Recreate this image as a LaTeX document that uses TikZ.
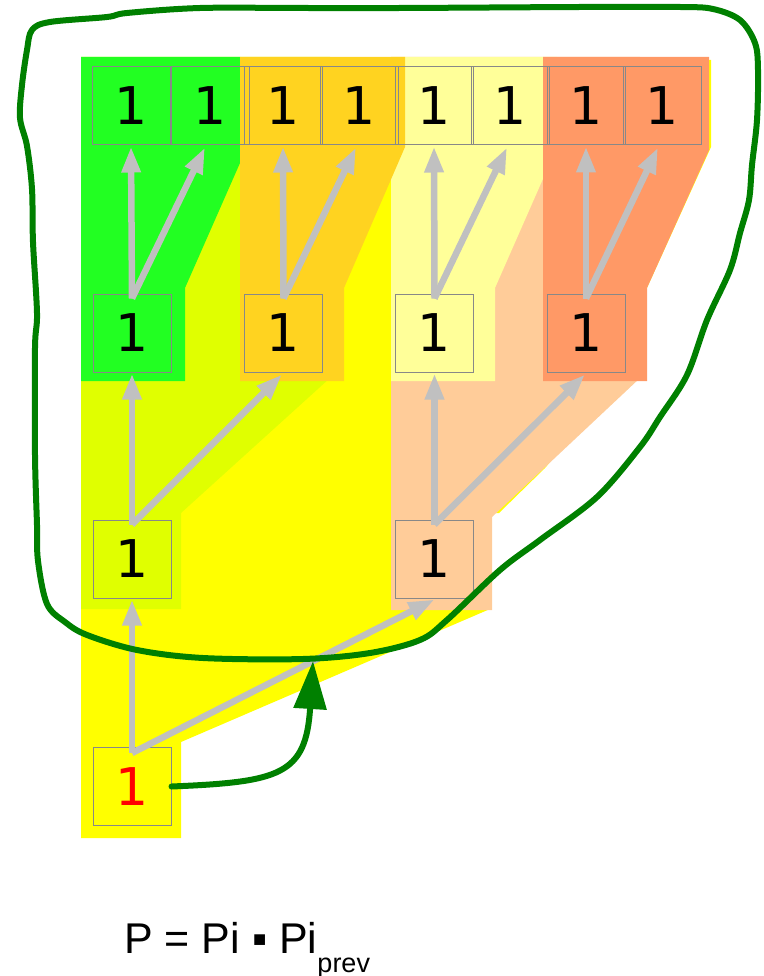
\documentclass[tikz,border=0pt]{standalone}
\usepackage{fontspec}
\usetikzlibrary{arrows.meta}
\newfontfamily\digitfont{DejaVu Sans}
\newfontfamily\formulafont{Liberation Sans}
\definecolor{leafgreen}{HTML}{22FF22}
\definecolor{limeyellow}{HTML}{E0FF00}
\definecolor{rootyellow}{HTML}{FFFF00}
\definecolor{gold}{HTML}{FFD320}
\definecolor{paleyellow}{HTML}{FFFF99}
\definecolor{peach}{HTML}{FFCC99}
\definecolor{salmon}{HTML}{FF9966}
\definecolor{cellgray}{HTML}{888888}
\definecolor{linkgray}{HTML}{C0C0C0}
\definecolor{handgreen}{HTML}{008000}
\begin{document}
\begin{tikzpicture}[x=1pt,y=-1pt,
  cell/.style={draw=cellgray, line width=1pt, minimum width=78pt, minimum height=78pt,
    inner sep=0pt, font=\digitfont\fontsize{52}{52}\selectfont},
  link/.style={draw=linkgray, line width=6.5pt, -{Triangle[length=26pt,width=18pt]}},
  hand/.style={draw=handgreen, line width=6pt, line cap=round, line join=round},
  handarrow/.style={draw=handgreen, line width=6pt, line cap=round,
    -{Triangle[length=48pt,width=32pt]}}]
\useasboundingbox (0,0) rectangle (763,976);

% subtree regions, back to front
\fill[rootyellow] (81,60) -- (711,60) -- (711,147) -- (646,290) -- (620,381) -- (545,468)
  -- (499,513) -- (490,513) -- (490,609) -- (181,742) -- (181,838) -- (81,838) -- cycle;
\fill[limeyellow] (81,57) -- (330,57) -- (330,378) -- (181,513) -- (181,609) -- (81,609) -- cycle;
\fill[peach] (391,57) -- (640,57) -- (640,378) -- (492,517) -- (492,610) -- (391,610) -- cycle;
\fill[paleyellow] (391,57) -- (557,57) -- (557,147) -- (495,288) -- (495,381) -- (391,381) -- cycle;
\fill[leafgreen] (81,57) -- (240,57) -- (240,163) -- (185,288) -- (185,381) -- (81,381) -- cycle;
\fill[gold] (240,57) -- (405,57) -- (405,147) -- (344,288) -- (344,381) -- (240,381) -- cycle;
\fill[salmon] (543,57) -- (709,57) -- (709,150) -- (647,288) -- (647,381) -- (543,381) -- cycle;

% top row
\node[cell] (t1) at (131,106) {1};
\node[cell] (t2) at (210,106) {1};
\node[cell] (t3) at (283,106) {1};
\node[cell] (t4) at (359,106) {1};
\node[cell] (t5) at (434,106) {1};
\node[cell] (t6) at (510.5,106) {1};
\node[cell] (t7) at (586,106) {1};
\node[cell] (t8) at (662,106) {1};
% second row
\node[cell] (m1) at (132,333) {1};
\node[cell] (m2) at (283.5,333) {1};
\node[cell] (m3) at (434.5,333) {1};
\node[cell] (m4) at (586,333) {1};
% third row
\node[cell] (l1) at (132,559) {1};
\node[cell] (l2) at (434.5,559) {1};
% root
\node[cell, text=red] (r0) at (132,786.5) {1};

% links
\draw[link] ([yshift=-5pt]m1.north) -- ([yshift=-1pt]t1.south);
\draw[link] ([yshift=-5pt]m1.north) -- ([xshift=-5pt,yshift=-2pt]t2.south);
\draw[link] ([yshift=-5pt]m2.north) -- ([yshift=-1pt]t3.south);
\draw[link] ([yshift=-5pt]m2.north) -- ([xshift=-3pt,yshift=-2pt]t4.south);
\draw[link] ([yshift=-5pt]m3.north) -- ([yshift=-1pt]t5.south);
\draw[link] ([yshift=-5pt]m3.north) -- ([xshift=-3.5pt,yshift=-2pt]t6.south);
\draw[link] ([yshift=-5pt]m4.north) -- ([yshift=-1pt]t7.south);
\draw[link] ([yshift=-5pt]m4.north) -- ([xshift=-4pt,yshift=-2pt]t8.south);
\draw[link] ([yshift=-5pt]l1.north) -- ([yshift=-1pt]m1.south);
\draw[link] ([yshift=-5pt]l1.north) -- ([xshift=-1.5pt,yshift=-2pt]m2.south);
\draw[link] ([yshift=-5pt]l2.north) -- ([yshift=-1pt]m3.south);
\draw[link] ([yshift=-5pt]l2.north) -- ([xshift=-1pt,yshift=-2pt]m4.south);
\draw[link] ([yshift=-6pt]r0.north) -- ([yshift=-1pt]l1.south);
\draw[link] ([yshift=-6pt]r0.north) -- ([yshift=-1pt]l2.south);

% hand-drawn loop around the upper part
\draw[hand] plot[smooth cycle, tension=0.55] coordinates {
  (32,30) (50,22) (107,17) (127,13) (200,8) (300,8) (400,8) (580,7) (680,7)
  (713,9) (740,20) (755,43) (758,70) (757,120) (752,165) (749,200) (740,233)
  (730,270) (707,320) (687,375) (660,417) (640,447) (597,497) (540,540)
  (500,570) (447,620) (420,640) (370,653) (303,659) (203,658) (137,650)
  (87,635) (65,622) (47,604) (38,561) (37,525) (35,455) (35,348) (37,313)
  (33,242) (32,189) (27,146) (20,118) (22,85) (27,50)};
\draw[handarrow] (r0.east) .. controls (280,782) and (306,775) .. (313,661);

% formula
\node[anchor=base west, inner sep=0pt, font=\formulafont\fontsize{43}{43}\selectfont]
  (formula) at (124,953) {P = Pi ▪ Pi\raisebox{-19pt}{\fontsize{27}{27}\selectfont prev}};
\end{tikzpicture}
\end{document}
